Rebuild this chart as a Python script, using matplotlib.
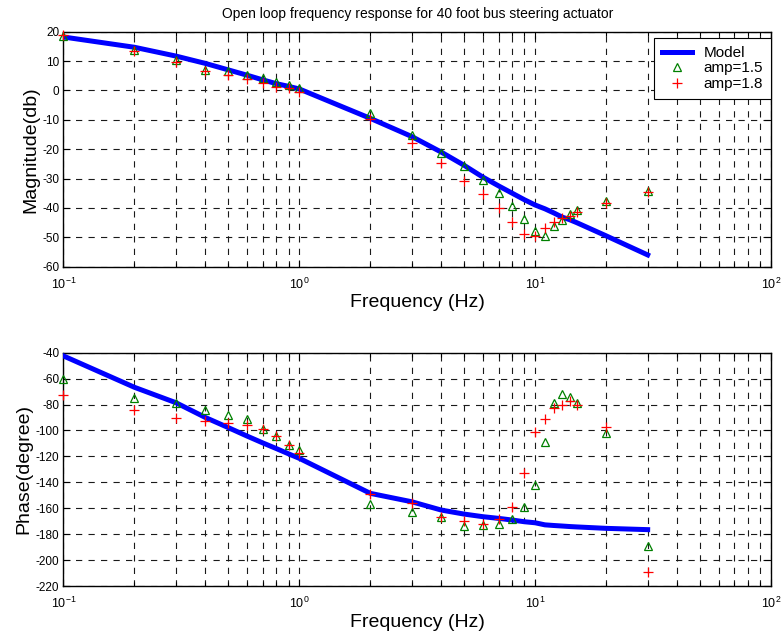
import matplotlib
matplotlib.use("Agg")
import matplotlib.pyplot as plt
from matplotlib.ticker import NullFormatter, MultipleLocator

# test frequencies (Hz)
freq = [0.1, 0.2, 0.3, 0.4, 0.5, 0.6, 0.7, 0.8, 0.9, 1, 2, 3, 4, 5, 6, 7, 8, 9,
        10, 11, 12, 13, 14, 15, 20, 30]

# magnitude (db)
model_mag = [18.2, 14.7, 11.7, 9.2, 7.0, 5.2, 3.6, 2.3, 1.4, 0.5, -9.5, -15.7,
             -21.0, -25.5, -29.5, -32.5, -35.0, -37.2, -39.0, -40.3, -41.7,
             -43.1, -44.0, -45.0, -49.5, -56.0]
mag_15 = [18.5, 13.9, 10.5, 7.1, 6.6, 5.1, 4.1, 3.0, 1.9, 1.0, -7.8, -15.2,
          -21.2, -25.8, -30.6, -35.0, -39.2, -43.9, -47.9, -49.6, -46.2,
          -44.1, -42.2, -40.7, -37.5, -34.1]
mag_18 = [18.8, 13.3, 9.7, 6.5, 5.1, 4.0, 2.4, 1.1, 0.7, -0.4, -9.8, -17.9,
          -24.6, -30.7, -35.3, -40.0, -44.7, -49.0, -49.6, -46.7, -44.7,
          -43.3, -42.8, -41.5, -38.4, -34.6]

# phase (degree)
model_ph = [-42.5, -66.7, -78.6, -90.0, -97.8, -104.3, -109.6, -114.0, -118.0,
            -121.5, -148.5, -155.0, -161.4, -164.5, -166.5, -167.8, -169.1,
            -170.4, -171.2, -172.8, -173.3, -173.7, -174.1, -174.4, -175.5,
            -176.5]
ph_15 = [-60, -75, -79, -84, -88, -91, -99, -104, -111, -115, -157, -163, -167,
         -174, -173, -172, -168, -159, -142, -109, -79, -72, -74, -79, -102,
         -189]
ph_18 = [-73, -84, -90, -93, -94, -96, -99, -104, -111, -117, -149, -156, -167,
         -170, -172, -168, -159, -133, -101, -91, -83, -80, -77, -80, -97,
         -209]

xtick_vals = [0.1, 1, 10, 100]
xtick_labels = [r'$10^{-1}$', r'$10^{0}$', r'$10^{1}$', r'$10^{2}$']

plt.rcParams['font.family'] = ['Liberation Sans', 'DejaVu Sans']
plt.rcParams['mathtext.default'] = 'regular'
plt.rcParams['axes.unicode_minus'] = False
plt.rcParams['lines.scale_dashes'] = False


def style_axes(ax, ylim, ystep):
    ax.set_xscale('log')
    ax.set_xlim(0.1, 100)
    ax.set_ylim(*ylim)
    ax.yaxis.set_major_locator(MultipleLocator(ystep))
    ax.set_xticks(xtick_vals)
    ax.set_xticklabels(xtick_labels, fontsize=9)
    ax.xaxis.set_minor_formatter(NullFormatter())
    ax.tick_params(which='both', direction='in', top=True, right=True,
                   width=0.8, pad=3)
    ax.tick_params(axis='x', pad=7)
    ax.tick_params(axis='y', labelsize=8.5)
    ax.tick_params(which='major', length=5)
    ax.tick_params(which='minor', length=3)
    ax.grid(True, which='both', axis='x', color='0.1', lw=0.8,
            linestyle=(0, (4.5, 4.5)))
    ax.grid(True, which='major', axis='y', color='0.1', lw=0.8,
            linestyle=(0, (4.5, 4.5)))
    for s in ax.spines.values():
        s.set_linewidth(1.0)
    ax.set_xlabel('Frequency (Hz)', fontsize=14, labelpad=2)


def plot_series(ax, model, amp15, amp18):
    ax.plot(freq, model, color='#0000ff', lw=3.6, label='Model', zorder=3)
    ax.plot(freq, amp15, linestyle='none', marker='^', markersize=6,
            markerfacecolor='none', markeredgecolor='#008000',
            markeredgewidth=0.9, label='amp=1.5', clip_on=False, zorder=4)
    ax.plot(freq, amp18, linestyle='none', marker='+', markersize=6.5,
            color='#ff0000', markeredgewidth=0.9, label='amp=1.8',
            clip_on=False, zorder=4)


def main():
    fig = plt.figure(figsize=(7.82, 6.33), dpi=100)
    ax_mag = fig.add_axes([0.0812, 0.5787, 0.9047, 0.3712])
    ax_ph = fig.add_axes([0.0812, 0.0742, 0.9047, 0.3686])

    plot_series(ax_mag, model_mag, mag_15, mag_18)
    style_axes(ax_mag, (-60, 20), 10)
    ax_mag.set_ylabel('Magnitude(db)', fontsize=14, labelpad=2)
    ax_mag.set_title('Open loop frequency response for 40 foot bus steering actuator',
                     fontsize=10, pad=10)
    leg = ax_mag.legend(loc='upper right', bbox_to_anchor=(1.0, 0.972),
                        borderaxespad=0, fontsize=11, fancybox=False,
                        framealpha=1, edgecolor='black', handlelength=2.0,
                        handletextpad=0.75, labelspacing=0.1, borderpad=0.5)
    leg.get_frame().set_linewidth(0.8)

    plot_series(ax_ph, model_ph, ph_15, ph_18)
    style_axes(ax_ph, (-220, -40), 20)
    ax_ph.set_ylabel('Phase(degree)', fontsize=14, labelpad=2)

    fig.savefig('out.png', dpi=100)
    plt.close(fig)


if __name__ == "__main__":
    main()
